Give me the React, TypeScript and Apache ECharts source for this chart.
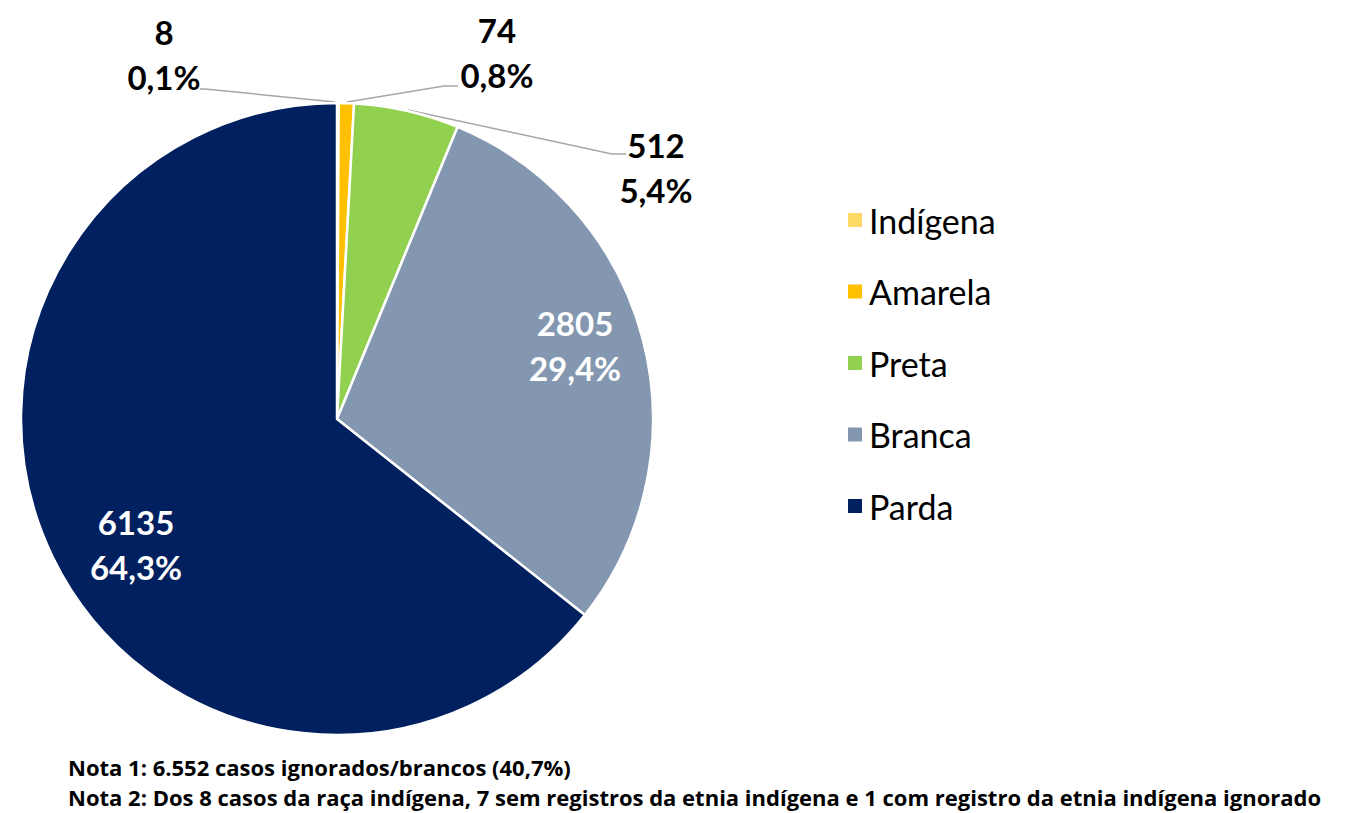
import React, { useEffect, useRef } from "react";
import * as echarts from "echarts";

const categories = ["Indígena", "Amarela", "Preta", "Branca", "Parda"];
const values = [8, 74, 512, 2805, 6135];
const colors = ["#FFD966", "#FFC000", "#92D050", "#8497B0", "#002060"];
const notes = [
  "Nota 1: 6.552 casos ignorados/brancos (40,7%)",
  "Nota 2: Dos 8 casos da raça indígena, 7 sem registros da etnia indígena e 1 com registro da etnia indígena ignorado",
];

// label placement (layout only)
const labelPos = [
  { x: 164, y: 54, line: [[335, 102], [205, 89], [200, 89]] },
  { x: 497, y: 52, line: [[347, 102], [444, 86], [458, 86]] },
  { x: 656, y: 167, line: [[408, 110], [612, 154], [626, 154]] },
  { x: 575, y: 345, line: null },
  { x: 136, y: 544, line: null },
];

const FONT = "Lato";

export default function App() {
  const ref = useRef<HTMLDivElement>(null);
  useEffect(() => {
    const chart = echarts.init(ref.current!, null, { renderer: "svg" });
    const total = values.reduce((a, b) => a + b, 0);
    const data = categories.map((name, i) => ({
      name,
      value: values[i],
      itemStyle: { color: colors[i] },
      label: { color: labelPos[i].line ? "#000000" : "#FFFFFF" },
      labelLine: { show: !!labelPos[i].line },
    }));
    chart.setOption({
      animation: false,
      backgroundColor: "#FFFFFF",
      legend: {
        orient: "vertical",
        left: 841,
        top: 197,
        itemWidth: 16,
        itemHeight: 16,
        itemGap: 35.5,
        icon: "rect",
        data: categories,
        textStyle: { fontFamily: FONT, fontSize: 34, lineHeight: 36, color: "#000000", padding: [0, 0, 0, 1] },
      },
      series: [
        {
          type: "pie",
          center: [337, 419],
          radius: 316,
          startAngle: 90,
          clockwise: true,
          avoidLabelOverlap: false,
          itemStyle: { borderColor: "#FFFFFF", borderWidth: 2.5 },
          label: {
            show: true,
            position: "outside",
            fontFamily: FONT,
            fontWeight: "bold",
            fontSize: 33,
            lineHeight: 45,
            align: "center",
            formatter: (p: any) =>
              p.value + "\n" + ((p.value / total) * 100).toFixed(1).replace(".", ",") + "%",
          },
          labelLine: { lineStyle: { color: "#A6A6A6", width: 1.5 } },
          labelLayout: (p: any) => {
            const lp = labelPos[p.dataIndex];
            const r: any = { x: lp.x, y: lp.y, align: "center", verticalAlign: "middle" };
            if (lp.line) r.labelLinePoints = lp.line;
            return r;
          },
          emphasis: { disabled: true },
          data,
        },
      ],
      graphic: notes.map((t, i) => ({
        type: "text",
        left: 68,
        top: 756 + i * 30,
        style: { text: t, fontFamily: "Open Sans", fontWeight: "bold", fontSize: 22, fill: "#000000" },
      })),
    });
    return () => chart.dispose();
  }, []);
  return <div ref={ref} style={{ position: "absolute", left: 0, top: 0, width: 1357, height: 813 }} />;
}
